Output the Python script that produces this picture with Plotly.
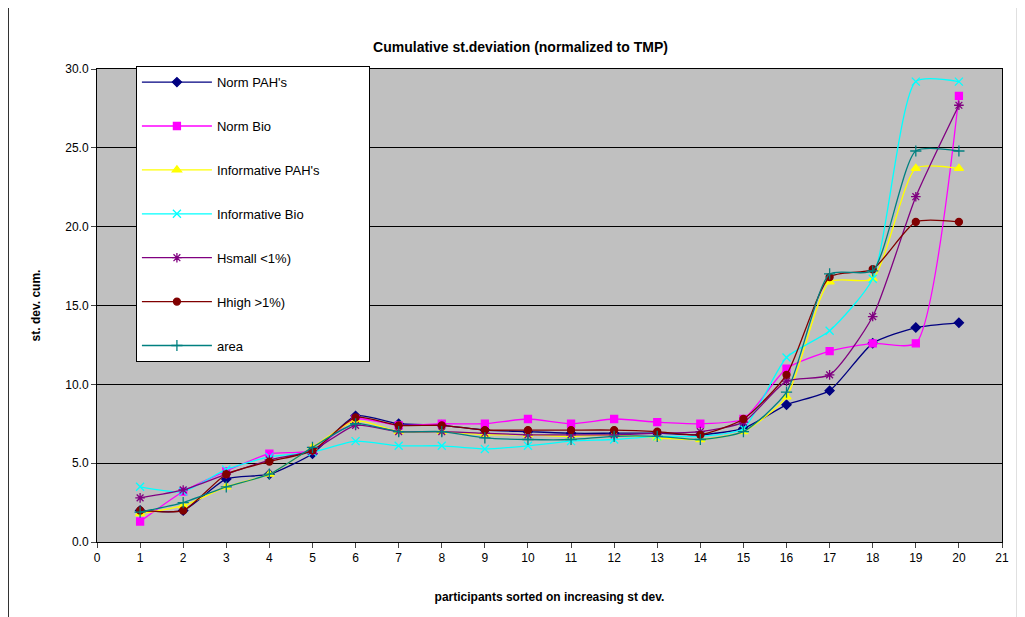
import plotly.graph_objects as go

x = list(range(1, 21))
norm_pah = [2.0,2.0,4.0,4.3,5.6,8.0,7.5,7.4,7.1,7.0,6.9,6.9,6.9,6.8,7.2,8.7,9.6,12.6,13.6,13.9]
norm_bio = [1.3,3.2,4.5,5.6,5.8,7.8,7.4,7.5,7.5,7.8,7.5,7.8,7.6,7.5,7.8,11.0,12.1,12.6,12.6,28.3]
inf_pah = [1.8,2.3,3.5,4.3,6.0,7.7,7.0,7.0,6.8,6.8,6.7,6.8,6.6,6.5,7.0,9.2,16.5,16.7,23.7,23.7]
inf_bio = [3.5,3.2,4.6,5.4,5.7,6.4,6.1,6.1,5.9,6.1,6.4,6.5,6.7,6.7,7.2,11.7,13.4,16.7,29.2,29.2]
hsmall = [2.8,3.3,4.3,5.2,5.8,7.4,7.0,7.0,6.9,6.8,6.8,6.8,6.9,7.0,7.6,10.2,10.6,14.3,21.9,27.7]
hhigh = [2.0,2.0,4.3,5.1,5.8,7.9,7.4,7.4,7.1,7.1,7.1,7.1,7.0,6.8,7.8,10.6,16.8,17.3,20.3,20.3]
area = [1.9,2.5,3.5,4.3,6.0,7.5,7.0,7.0,6.6,6.5,6.5,6.7,6.7,6.5,7.0,9.5,17.0,17.2,24.8,24.8]

series = [
    ("Norm PAH's", norm_pah, "#000080", "diamond", 7),
    ("Norm Bio", norm_bio, "#FF00FF", "square", 7),
    ("Informative PAH's", inf_pah, "#FFFF00", "triangle-up", 8),
    ("Informative Bio", inf_bio, "#00FFFF", "x-thin", 8),
    ("Hsmall <1%)", hsmall, "#800080", "asterisk", 8),
    ("Hhigh >1%)", hhigh, "#800000", "circle", 7),
    ("area", area, "#008080", "cross-thin", 8),
]

fig = go.Figure()
for i, (name, y, c, sym, sz) in enumerate(series):
    fig.add_trace(go.Scatter(x=x, y=y, name=name + "\u00a0" * 12, legendgroup=f"g{i}",
        mode="lines+markers",
        line=dict(color=c, width=1.3, shape="spline", smoothing=0.6),
        marker=dict(symbol=sym, size=sz, color=c, line=dict(color=c, width=1.3))))

fig.update_layout(
    width=1025, height=617,
    paper_bgcolor="white", plot_bgcolor="#C0C0C0",
    margin=dict(l=89, r=31, t=61, b=83),
    title=dict(text="<b>Cumulative st.deviation (normalized to TMP)</b>", x=0.5, xanchor="center",
               y=0.945, font=dict(family="Arial, Liberation Sans", size=14, color="black")),
    font=dict(family="Arial, Liberation Sans", size=12, color="black"),
    legend=dict(x=0.043, y=1.006, xanchor="left", yanchor="top", bgcolor="white",
                bordercolor="black", borderwidth=1, tracegroupgap=24,
                font=dict(size=13), itemwidth=70),
    showlegend=True,
    shapes=[dict(type="rect", xref="paper", yref="paper", x0=-0.098, x1=1.017, y0=-0.16, y1=1.135,
                 line=dict(color="black", width=1))],
)
fig.update_xaxes(range=[0, 21], dtick=1, tick0=0, showgrid=False, ticks="outside", ticklen=5,
                 showline=True, linecolor="black", zeroline=False, mirror=True,
                 title=dict(text="<b>participants sorted on increasing st dev.</b>", font=dict(size=12), standoff=28))
fig.update_yaxes(range=[0, 30], dtick=5, tickformat=".1f", showgrid=True, gridcolor="black", gridwidth=1,
                 ticks="outside", ticklen=5, showline=True, linecolor="black", zeroline=False, mirror=True,
                 title=dict(text="<b>st. dev. cum.</b>", font=dict(size=12), standoff=22))
fig.write_html("out.html")
